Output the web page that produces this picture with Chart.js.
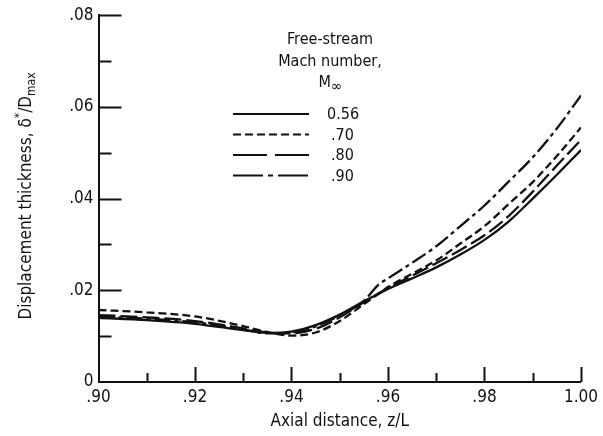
<!DOCTYPE html>
<html>
<head>
<meta charset="utf-8">
<script src="https://cdn.jsdelivr.net/npm/chart.js@4"></script>
<style>
  html, body { margin: 0; padding: 0; background: #fff; }
  #wrap { width: 603px; height: 436px; }
</style>
</head>
<body>
<div id="wrap"><canvas id="bl"></canvas></div>
<script>
const ink = '#111';
const font = "'DejaVu Sans Condensed', 'Liberation Sans Narrow', sans-serif";

// axial distance z/L
const zL = [0.900, 0.910, 0.920, 0.930, 0.935, 0.940, 0.945, 0.950, 0.955, 0.958, 0.960, 0.965, 0.970, 0.975, 0.980, 0.985, 0.990, 0.995, 1.000];

// displacement thickness per Mach number
const m056 = [0.0140, 0.0135, 0.0127, 0.0113, 0.0107, 0.0110, 0.0124, 0.0147, 0.0176, 0.0192, 0.0203, 0.0226, 0.0250, 0.0278, 0.0310, 0.0350, 0.0400, 0.0452, 0.0506];
const m070 = [0.0157, 0.0152, 0.0143, 0.0122, 0.0109, 0.0101, 0.0108, 0.0133, 0.0170, 0.0192, 0.0207, 0.0236, 0.0265, 0.0302, 0.0340, 0.0388, 0.0436, 0.0493, 0.0555];
const m080 = [0.0146, 0.0141, 0.0133, 0.0117, 0.0108, 0.0106, 0.0116, 0.0141, 0.0174, 0.0193, 0.0205, 0.0232, 0.0259, 0.0288, 0.0320, 0.0362, 0.0415, 0.0472, 0.0528];
const m090 = [0.0143, 0.0138, 0.0130, 0.0115, 0.0106, 0.0108, 0.0121, 0.0145, 0.0177, 0.0212, 0.0226, 0.0260, 0.0296, 0.0340, 0.0385, 0.0437, 0.0490, 0.0553, 0.0625];

const machLabels = ['0.56', '.70', '.80', '.90'];
const legendTitle = ['Free-stream', 'Mach number,', 'M', '\u221E'];
const yTitle = ['Displacement thickness, \u03B4', '*', '/D', 'max'];

const dashes = [[], [8, 4], [17, 5], [16, 4, 4, 4]];
const legendDashes = [[], [8, 4], [34, 8], [30, 5, 5, 5]];

const pts = ys => zL.map((z, i) => ({ x: z, y: ys[i] }));

function fmt(v) {
    const n = Math.round(v * 100);
    if (n % 2 !== 0) return '';
    if (n === 0) return '0';
    if (n === 100) return '1.00';
    return '.' + String(n).padStart(2, '0');
}

// inward ticks, major every .02, minor every .01
const innerTicks = {
    id: 'innerTicks',
    afterDraw(chart) {
        const { ctx, chartArea: a, scales: { x, y } } = chart;
        ctx.save();
        ctx.strokeStyle = ink;
        ctx.lineWidth = 2;
        ctx.beginPath();
        y.ticks.forEach(t => {
            const n = Math.round(t.value * 100);
            if (n === 0) return;
            const py = Math.round(y.getPixelForValue(t.value)) + 0.5;
            ctx.moveTo(a.left, py);
            ctx.lineTo(a.left + (n % 2 === 0 ? 23 : 13), py);
        });
        x.ticks.forEach(t => {
            const n = Math.round(t.value * 100);
            if (n === 90) return;
            const px = Math.round(x.getPixelForValue(t.value)) + 0.5;
            ctx.moveTo(px, a.bottom);
            ctx.lineTo(px, a.bottom - (n % 2 === 0 ? 15 : 9));
        });
        ctx.stroke();
        ctx.restore();
    }
};

// rotated y title with super/subscript
const yTitlePlugin = {
    id: 'yTitlePlugin',
    afterDraw(chart) {
        const { ctx } = chart;
        ctx.save();
        ctx.translate(27, 196);
        ctx.rotate(-Math.PI / 2);
        ctx.fillStyle = ink;
        ctx.textBaseline = 'middle';
        const big = '17px ' + font, small = '12px ' + font;
        ctx.font = big;
        const w0 = ctx.measureText(yTitle[0]).width;
        const w2 = ctx.measureText(yTitle[2]).width;
        ctx.font = small;
        const w1 = ctx.measureText(yTitle[1]).width;
        const w3 = ctx.measureText(yTitle[3]).width;
        let cx = -(w0 + w1 + w2 + w3) / 2;
        ctx.textAlign = 'left';
        ctx.font = big;
        ctx.fillText(yTitle[0], cx, 0); cx += w0;
        ctx.font = small;
        ctx.fillText(yTitle[1], cx, -7); cx += w1;
        ctx.font = big;
        ctx.fillText(yTitle[2], cx, 0); cx += w2;
        ctx.font = small;
        ctx.fillText(yTitle[3], cx, 5);
        ctx.restore();
    }
};

// legend block drawn inside the plot
const machLegend = {
    id: 'machLegend',
    afterDraw(chart) {
        const { ctx } = chart;
        ctx.save();
        ctx.fillStyle = ink;
        ctx.font = '16px ' + font;
        ctx.textAlign = 'center';
        ctx.textBaseline = 'middle';
        ctx.fillText(legendTitle[0], 330, 40);
        ctx.fillText(legendTitle[1], 330, 62);
        ctx.textAlign = 'right';
        ctx.fillText(legendTitle[2], 331, 83);
        ctx.textAlign = 'left';
        ctx.font = '15px ' + font;
        ctx.fillText(legendTitle[3], 331, 87);
        ctx.font = '16px ' + font;
        ctx.strokeStyle = ink;
        ctx.lineWidth = 2.2;
        machLabels.forEach((lab, i) => {
            const yy = 114 + i * 20.5;
            ctx.setLineDash(legendDashes[i]);
            ctx.beginPath();
            ctx.moveTo(233, yy);
            ctx.lineTo(309, yy);
            ctx.stroke();
            ctx.fillText(lab, i === 0 ? 327 : 331, yy + 1);
        });
        ctx.restore();
    }
};

const sets = [m056, m070, m080, m090].map((ys, i) => ({
    label: machLabels[i],
    data: pts(ys),
    borderColor: ink,
    borderWidth: 2.3,
    borderDash: dashes[i],
    pointRadius: 0,
    fill: false,
    cubicInterpolationMode: 'monotone',
}));

new Chart(document.getElementById('bl'), {
    type: 'line',
    data: { datasets: sets },
    plugins: [innerTicks, yTitlePlugin, machLegend],
    options: {
        responsive: true,
        maintainAspectRatio: false,
        animation: false,
        layout: { padding: { top: 13, right: 21, left: 0, bottom: 0 } },
        plugins: { legend: { display: false }, tooltip: { enabled: false } },
        scales: {
            x: {
                type: 'linear',
                min: 0.90,
                max: 1.00,
                afterFit: s => { s.height = 54; },
                border: { display: true, color: ink, width: 2 },
                grid: { drawOnChartArea: false, drawTicks: false },
                ticks: { stepSize: 0.01, autoSkip: false, maxRotation: 0, padding: 5, color: ink, font: { family: font, size: 17 }, callback: fmt },
                title: { display: true, text: 'Axial distance, z/L', color: ink, font: { family: font, size: 17 }, padding: { top: 0 } }
            },
            y: {
                min: 0,
                max: 0.08,
                afterFit: s => { s.width = 98.5; },
                border: { display: true, color: ink, width: 2 },
                grid: { drawOnChartArea: false, drawTicks: false },
                ticks: { stepSize: 0.01, autoSkip: false, padding: 5, color: ink, font: { family: font, size: 17 }, callback: fmt }
            }
        }
    }
});
</script>
</body>
</html>
